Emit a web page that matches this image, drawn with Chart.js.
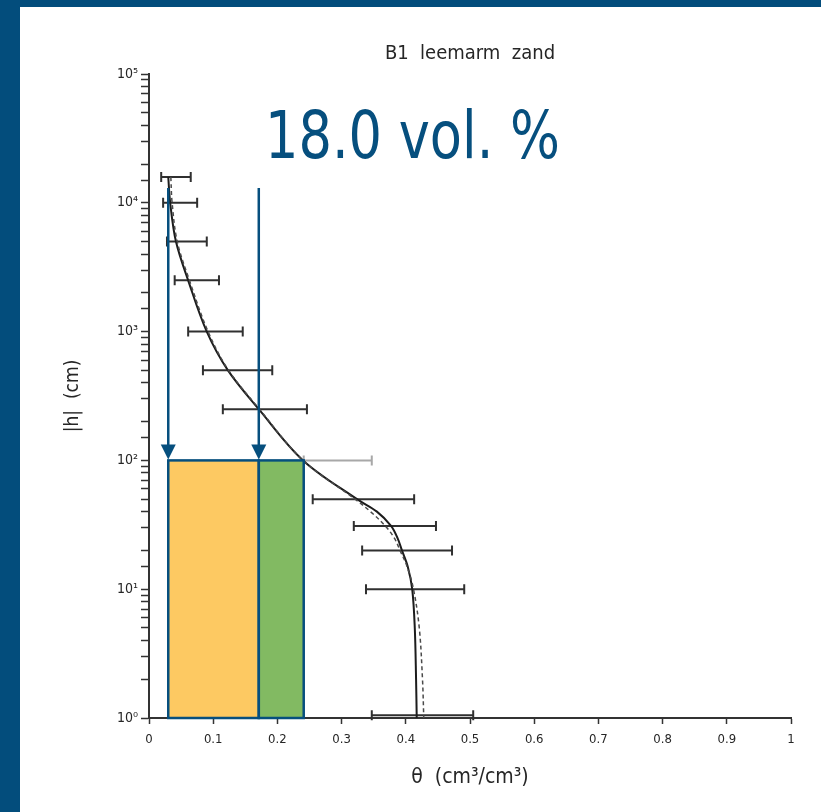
<!DOCTYPE html>
<html>
<head>
<meta charset="utf-8">
<script src="https://cdn.jsdelivr.net/npm/chart.js@4.4.0/dist/chart.umd.min.js"></script>
<style>
  html, body { margin: 0; padding: 0; width: 821px; height: 812px; overflow: hidden; background: #034d7c; }
  #frame { position: absolute; left: 20px; top: 7px; width: 801px; height: 805px; background: #ffffff; }
  canvas { display: block; }
</style>
</head>
<body>
<div id="frame"><canvas id="pf" width="801" height="805"></canvas></div>
<script>
// Soil water retention curve, horizon B1 (leemarm zand)
const chartTitle = 'B1  leemarm  zand';
const xTitle = 'θ  (cm³/cm³)';
const yTitle = '|h|  (cm)';
const noteText = '18.0 vol. %';

// measured water content ranges per suction step
const errH  = [15849, 10000, 5000, 2500, 1000, 500, 250, 100, 50, 31, 20, 10, 1.05];
const errLo = [0.019, 0.022, 0.028, 0.040, 0.061, 0.084, 0.115, 0.241, 0.255, 0.319, 0.332, 0.338, 0.347];
const errHi = [0.065, 0.075, 0.090, 0.109, 0.146, 0.192, 0.246, 0.347, 0.413, 0.447, 0.472, 0.491, 0.505];

// fitted retention curves
const fitH      = [15849, 10000, 5000, 2500, 1000, 500, 250, 100, 50, 40, 31, 25, 20, 15, 10, 5, 2, 1];
const fitTheta  = [0.030, 0.033, 0.042, 0.061, 0.090, 0.123, 0.171, 0.240, 0.324, 0.355, 0.377, 0.387, 0.394, 0.403, 0.410, 0.414, 0.416, 0.417];
const fitTheta2 = [0.034, 0.036, 0.044, 0.063, 0.092, 0.124, 0.172, 0.240, 0.321, 0.345, 0.368, 0.382, 0.391, 0.402, 0.412, 0.421, 0.426, 0.428];

// water content at wilting point, field capacity and the upper bound, between h = 1 and 100 cm
const thetaBounds = [0.030, 0.171, 0.241];
const boxH = [1, 100];
const arrowFromH = 13000;

// y tick labels (powers of ten)
const yTickLabels = ['10⁰', '10¹', '10²', '10³', '10⁴', '10⁵'];

const BLUE = '#064f7e';
const ORANGE = '#fdc962';
const GREEN = '#82ba62';
const INK = '#262626';
const narrow = '"Liberation Sans Narrow", "DejaVu Sans Condensed", "Liberation Sans", sans-serif';

const toPts = (xs, ys) => xs.map((v, i) => ({ x: v, y: ys[i] }));

const overlay = {
  id: 'overlay',
  beforeDatasetsDraw(chart) {
    const { ctx, scales: { x, y } } = chart;
    ctx.save();
    ctx.lineWidth = 2;
    errH.forEach((h, i) => {
      const py = y.getPixelForValue(h);
      const x1 = x.getPixelForValue(errLo[i]);
      const x2 = x.getPixelForValue(errHi[i]);
      ctx.strokeStyle = (i === 7) ? '#a8a8a8' : '#303030';
      ctx.beginPath();
      ctx.moveTo(x1, py); ctx.lineTo(x2, py);
      ctx.moveTo(x1, py - 5); ctx.lineTo(x1, py + 5);
      ctx.moveTo(x2, py - 5); ctx.lineTo(x2, py + 5);
      ctx.stroke();
    });
    ctx.restore();
  },
  afterDatasetsDraw(chart) {
    const { ctx, scales: { x, y }, chartArea } = chart;
    const yb = y.getPixelForValue(boxH[0]);
    const yt = y.getPixelForValue(boxH[1]);
    const xs = thetaBounds.map(v => x.getPixelForValue(v));
    ctx.save();
    // available water boxes
    ctx.fillStyle = ORANGE;
    ctx.fillRect(xs[0], yt, xs[1] - xs[0], yb - yt);
    ctx.fillStyle = GREEN;
    ctx.fillRect(xs[1], yt, xs[2] - xs[1], yb - yt);
    ctx.strokeStyle = BLUE;
    ctx.lineWidth = 2.5;
    ctx.strokeRect(xs[0], yt, xs[1] - xs[0], yb - yt);
    ctx.strokeRect(xs[1], yt, xs[2] - xs[1], yb - yt);
    // arrows down to h = 100 cm
    const ya = y.getPixelForValue(arrowFromH);
    ctx.fillStyle = BLUE;
    [xs[0], xs[1]].forEach(px => {
      ctx.beginPath();
      ctx.moveTo(px, ya); ctx.lineTo(px, yt - 12);
      ctx.stroke();
      ctx.beginPath();
      ctx.moveTo(px - 7.5, yt - 16);
      ctx.lineTo(px + 7.5, yt - 16);
      ctx.lineTo(px, yt - 1);
      ctx.closePath();
      ctx.fill();
    });
    // annotation
    ctx.font = '66px "DejaVu Sans", sans-serif';
    ctx.textBaseline = 'alphabetic';
    ctx.textAlign = 'left';
    const w = ctx.measureText(noteText).width;
    const sx = 295 / w;
    ctx.translate(chartArea.left + 116, chartArea.top + 84);
    ctx.scale(sx, 1);
    ctx.fillText(noteText, 0, 0);
    ctx.restore();
  }
};

new Chart(document.getElementById('pf'), {
  type: 'scatter',
  data: {
    datasets: [
      {
        data: toPts(fitTheta2, fitH),
        showLine: true, borderColor: '#4a4a4a', borderWidth: 1.5, borderDash: [4, 3],
        pointRadius: 0, tension: 0.35
      },
      {
        data: toPts(fitTheta, fitH),
        showLine: true, borderColor: '#1c1c1c', borderWidth: 2,
        pointRadius: 0, tension: 0.35
      }
    ]
  },
  options: {
    responsive: false,
    animation: false,
    devicePixelRatio: 1,
    layout: { padding: { left: 0, right: 30, top: 0, bottom: 0 } },
    plugins: {
      legend: { display: false },
      tooltip: { enabled: false },
      title: {
        display: true, text: chartTitle, fullSize: false, color: INK,
        font: { family: narrow, size: 20, weight: 'normal' },
        padding: { top: 35, bottom: 8 }
      }
    },
    scales: {
      x: {
        type: 'linear', min: 0, max: 1,
        afterFit(s) { s.height = 94; },
        border: { display: true, color: '#333', width: 2 },
        grid: { drawOnChartArea: false, drawTicks: true, tickLength: 6, color: '#333', tickWidth: 1.5 },
        ticks: {
          stepSize: 0.1, color: INK, padding: 8, maxRotation: 0, autoSkip: false,
          font: { family: narrow, size: 13 },
          callback(v) {
            const r = Math.round(v * 10) / 10;
            return (r === 0 || r === 1) ? String(r) : r.toFixed(1);
          }
        },
        title: {
          display: true, text: xTitle, color: INK,
          font: { family: narrow, size: 21 },
          padding: { top: 0, bottom: 22 }
        }
      },
      y: {
        type: 'logarithmic', min: 1, max: 100000,
        afterFit(s) { s.width = 129; },
        border: { display: true, color: '#333', width: 2 },
        grid: { drawOnChartArea: false, drawTicks: true, tickLength: 8, color: '#333', tickWidth: 1.5 },
        ticks: {
          color: INK, padding: 3, autoSkip: false,
          font: { family: narrow, size: 14 },
          callback(v) {
            const e = Math.log10(v);
            const r = Math.round(e);
            return Math.abs(e - r) < 1e-9 ? yTickLabels[r] : '';
          }
        },
        title: {
          display: true, text: yTitle, color: INK,
          font: { family: narrow, size: 19 },
          padding: { top: 42, bottom: 0 }
        }
      }
    }
  },
  plugins: [overlay]
});
</script>
</body>
</html>
